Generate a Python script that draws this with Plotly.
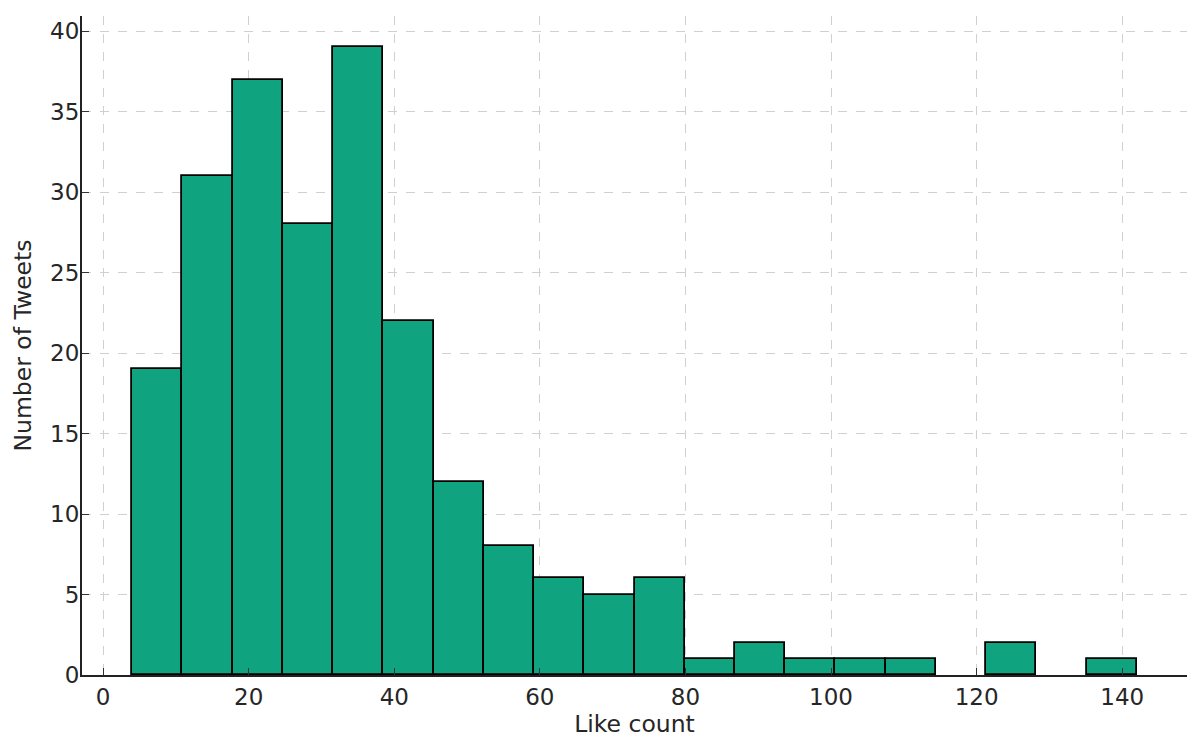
import plotly.graph_objects as go

# Histogram of like counts (20 bins)
bin_edges = [4.0, 10.9, 17.8, 24.7, 31.6, 38.5, 45.4, 52.3, 59.2, 66.1, 73.0,
             79.9, 86.8, 93.7, 100.6, 107.5, 114.4, 121.3, 128.2, 135.1, 142.0]
counts = [19, 31, 37, 28, 39, 22, 12, 8, 6, 5, 6, 1, 2, 1, 1, 1, 0, 2, 0, 1]

x_ticks = [0, 20, 40, 60, 80, 100, 120, 140]
y_ticks = [0, 5, 10, 15, 20, 25, 30, 35, 40]

xs, ys, ws = [], [], []
for a, b, c in zip(bin_edges[:-1], bin_edges[1:], counts):
    if c > 0:  # empty bins draw nothing
        xs.append((a + b) / 2)
        ys.append(c)
        ws.append(b - a)

FONT = "DejaVu Sans"
TXT = "#262626"

fig = go.Figure(go.Bar(
    x=xs, y=ys, width=ws,
    marker=dict(color="#10a37f", line=dict(color="#000000", width=1.8)),
    hoverinfo="x+y",
))

# page body has an 8px default margin, so the figure is sized/offset to compensate
fig.update_layout(
    width=1192, height=737,
    margin=dict(l=74, r=13, t=8, b=70),
    paper_bgcolor="white", plot_bgcolor="white",
    showlegend=False,
    font=dict(family=FONT, color=TXT, size=23),
    bargap=0,
)

fig.update_xaxes(
    range=[-2.9, 148.9],
    tickvals=x_ticks,
    automargin=False,
    ticks="inside", ticklen=7, tickwidth=1.2, tickcolor="#333333",
    showline=True, linecolor="#222222", linewidth=2,
    showgrid=True, gridcolor="#d0d0d0", griddash="dash", gridwidth=1,
    zeroline=False,
    tickfont=dict(size=23, family=FONT, color=TXT),
    ticklabelstandoff=0,
    title=dict(text="Like count", font=dict(size=23.5, family=FONT, color=TXT), standoff=6),
)
fig.update_yaxes(
    range=[0, 40.95],
    tickvals=y_ticks,
    automargin=False,
    ticks="inside", ticklen=7, tickwidth=1.2, tickcolor="#333333",
    showline=True, linecolor="#222222", linewidth=2,
    showgrid=True, gridcolor="#d0d0d0", griddash="dash", gridwidth=1,
    zeroline=False,
    tickfont=dict(size=23, family=FONT, color=TXT),
    ticklabelstandoff=-4,
    title=dict(text="Number of Tweets", font=dict(size=23.5, family=FONT, color=TXT), standoff=12),
)

fig.write_html("out.html")
